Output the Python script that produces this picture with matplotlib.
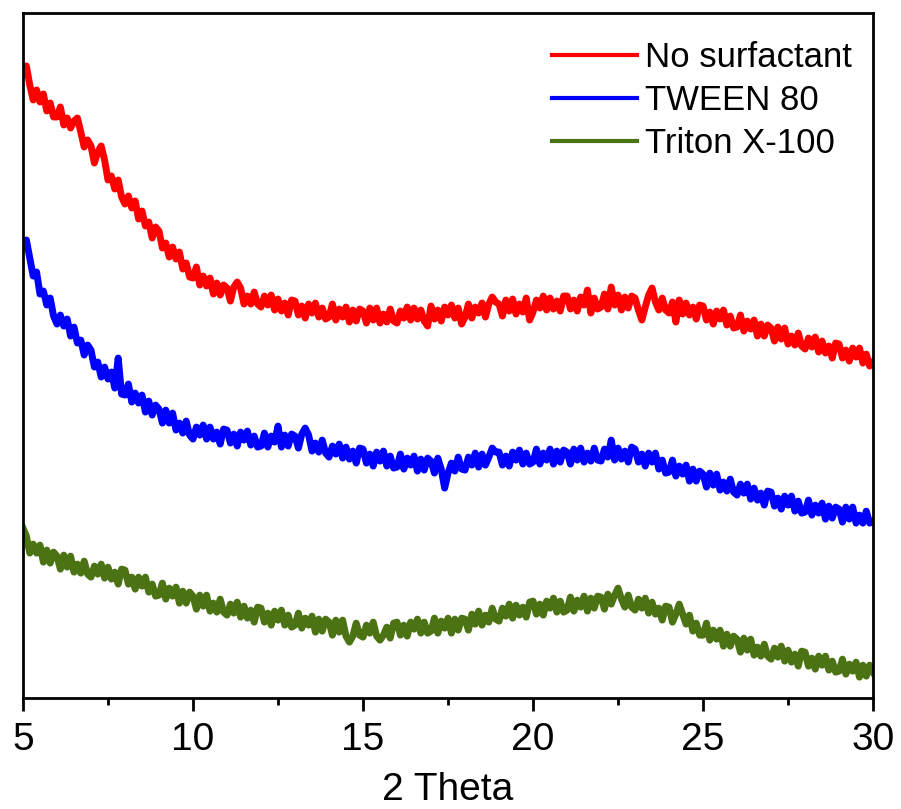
import numpy as np
import matplotlib
matplotlib.use("Agg")
import matplotlib.pyplot as plt
from matplotlib.ticker import MultipleLocator

plt.rcParams['font.family'] = ['Liberation Sans', 'DejaVu Sans']

# 2 theta scan grid, 0.1 deg step
two_theta = np.round(np.arange(5.0, 30.05, 0.1), 1)

# intensities (a.u.), one row per degree
no_surfactant = [
    625, 632, 613, 598, 608, 596, 604, 587, 595, 581,
    581, 591, 573, 580, 570, 577, 580, 566, 551, 558,
    552, 535, 546, 552, 538, 518, 522, 509, 518, 501,
    494, 502, 490, 497, 479, 487, 472, 476, 460, 471,
    467, 450, 455, 441, 451, 439, 446, 429, 435, 421,
    420, 431, 413, 422, 412, 420, 404, 415, 403, 413,
    410, 397, 411, 416, 410, 394, 402, 394, 406, 394,
    391, 402, 393, 403, 388, 399, 387, 395, 383, 398,
    397, 383, 392, 380, 394, 385, 395, 381, 390, 379,
    381, 394, 378, 389, 381, 391, 376, 388, 377, 389,
    387, 375, 390, 378, 390, 375, 384, 376, 389, 377,
    375, 387, 380, 391, 378, 390, 379, 388, 377, 372,
    392, 379, 388, 377, 391, 383, 393, 380, 390, 374,
    381, 394, 380, 391, 385, 395, 381, 394, 401, 396,
    394, 382, 398, 387, 399, 384, 394, 386, 400, 378,
    386, 398, 390, 402, 388, 400, 389, 397, 387, 402,
    402, 389, 398, 387, 401, 393, 408, 385, 400, 389,
    391, 404, 389, 411, 393, 403, 388, 401, 390, 402,
    400, 388, 378, 391, 403, 410, 396, 388, 400, 388,
    385, 396, 376, 398, 384, 395, 383, 391, 379, 393,
    392, 378, 386, 374, 387, 379, 388, 373, 382, 370,
    371, 383, 367, 377, 369, 378, 362, 374, 362, 373,
    370, 357, 371, 359, 370, 354, 362, 353, 365, 352,
    349, 360, 351, 361, 346, 357, 345, 352, 340, 355,
    354, 340, 348, 337, 350, 341, 350, 335, 344, 332,
    336,
]

tween_80 = [
    452, 458, 440, 422, 426, 404, 407, 393, 400, 382,
    374, 383, 372, 379, 362, 371, 355, 358, 343, 353,
    348, 331, 336, 321, 331, 319, 326, 310, 340, 304,
    303, 314, 296, 305, 295, 303, 286, 297, 283, 293,
    289, 275, 288, 275, 285, 268, 275, 265, 277, 263,
    259, 271, 263, 273, 259, 271, 259, 266, 254, 269,
    268, 255, 264, 252, 266, 258, 267, 253, 262, 251,
    252, 265, 251, 262, 256, 272, 251, 263, 252, 264,
    262, 250, 264, 270, 263, 247, 255, 246, 258, 245,
    241, 252, 244, 254, 240, 251, 239, 247, 235, 250,
    249, 235, 244, 232, 246, 237, 247, 232, 242, 230,
    231, 244, 229, 240, 233, 242, 227, 239, 228, 240,
    237, 225, 240, 229, 210, 225, 235, 227, 241, 229,
    228, 241, 233, 245, 231, 244, 233, 241, 250, 246,
    246, 233, 242, 232, 246, 238, 248, 234, 245, 234,
    236, 249, 234, 245, 238, 249, 234, 247, 236, 248,
    246, 234, 249, 238, 250, 236, 245, 237, 250, 238,
    237, 249, 241, 258, 238, 250, 239, 247, 236, 251,
    249, 236, 244, 232, 245, 236, 245, 229, 238, 225,
    226, 238, 222, 232, 224, 233, 217, 229, 217, 227,
    224, 211, 225, 213, 224, 208, 216, 207, 219, 206,
    203, 214, 205, 214, 199, 210, 198, 205, 193, 207,
    206, 192, 200, 189, 202, 193, 202, 187, 197, 185,
    186, 198, 183, 193, 185, 195, 179, 192, 180, 191,
    189, 176, 191, 179, 191, 175, 183, 175, 187, 175,
    177,
]

triton_x100 = [
    170, 162, 145, 154, 145, 153, 136, 148, 135, 146,
    142, 129, 143, 131, 142, 126, 134, 125, 137, 124,
    121, 132, 124, 134, 120, 131, 119, 126, 114, 129,
    128, 114, 121, 109, 121, 112, 121, 106, 114, 102,
    103, 115, 99, 110, 102, 111, 95, 107, 95, 106,
    102, 89, 103, 92, 103, 87, 95, 86, 99, 86,
    83, 94, 85, 96, 81, 92, 80, 88, 76, 91,
    90, 76, 85, 73, 87, 78, 88, 73, 83, 71,
    73, 85, 70, 80, 73, 82, 66, 79, 67, 79,
    76, 63, 78, 66, 78, 62, 56, 62, 75, 63,
    61, 73, 65, 76, 62, 58, 63, 71, 60, 75,
    76, 63, 73, 62, 76, 69, 79, 65, 76, 65,
    67, 80, 65, 77, 70, 80, 65, 79, 68, 80,
    79, 68, 84, 74, 87, 73, 83, 76, 90, 79,
    77, 90, 82, 94, 80, 93, 83, 91, 81, 96,
    97, 84, 94, 83, 97, 90, 100, 86, 97, 86,
    88, 101, 87, 98, 91, 102, 87, 100, 90, 102,
    101, 89, 104, 94, 103, 110, 99, 91, 103, 91,
    88, 99, 90, 100, 85, 96, 84, 90, 78, 92,
    91, 76, 84, 94, 84, 74, 83, 67, 75, 63,
    63, 75, 58, 68, 59, 68, 52, 64, 52, 62,
    59, 46, 60, 48, 59, 43, 51, 42, 54, 42,
    39, 50, 41, 52, 37, 48, 36, 44, 32, 47,
    46, 32, 40, 29, 42, 33, 42, 28, 37, 26,
    27, 39, 24, 34, 27, 36, 21, 33, 22, 33,
    26,
]

labels = ['No surfactant', 'TWEEN 80', 'Triton X-100']
colors = ['#ff0000', '#0000ff', '#4b7314']

fig = plt.figure(figsize=(9.01, 8.09), dpi=100)
ax = fig.add_axes([0.0255, 0.137, 0.9435, 0.847])

for y, lab, c in zip([no_surfactant, tween_80, triton_x100], labels, colors):
    ax.plot(two_theta, y, color=c, lw=5, label=lab)

ax.set_xlim(5, 30)
ax.set_ylim(0, 685)
ax.xaxis.set_major_locator(MultipleLocator(5))
ax.xaxis.set_minor_locator(MultipleLocator(2.5))
ax.tick_params(axis='x', which='major', direction='out', length=9, width=2,
               labelsize=28, pad=8)
ax.tick_params(axis='x', which='minor', direction='out', length=5, width=2)
ax.set_yticks([])
for s in ax.spines.values():
    s.set_linewidth(2)

ax.set_xlabel('2 Theta', fontsize=28, labelpad=10)

leg = ax.legend(loc='upper right', frameon=False, fontsize=25, handlelength=2.45,
                handletextpad=0.25, labelspacing=0.28, borderaxespad=0.3,
                bbox_to_anchor=(1.004, 0.994))
for h in leg.get_lines():
    h.set_linewidth(3)

fig.savefig('out.png', dpi=100)
